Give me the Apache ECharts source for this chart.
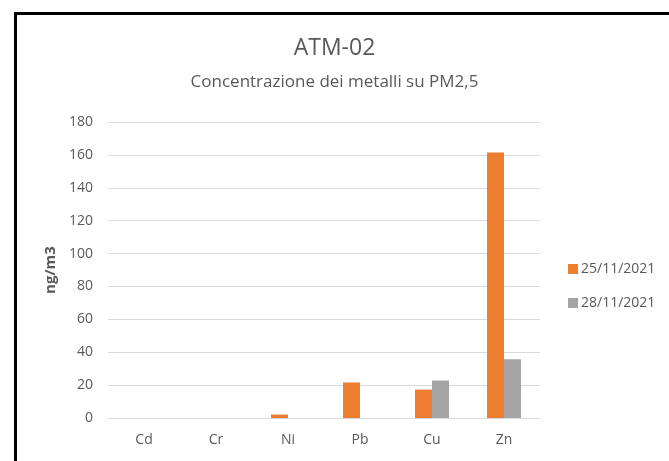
<!DOCTYPE html>
<html>
<head>
<meta charset="utf-8">
<script src="https://cdn.jsdelivr.net/npm/echarts@6/dist/echarts.min.js"></script>
<style>
  html, body { margin: 0; padding: 0; background: #fff; }
  #chart { width: 669px; height: 461px; }
</style>
</head>
<body>
<div id="chart"></div>
<script>
// dati
const categories = ['Cd', 'Cr', 'Ni', 'Pb', 'Cu', 'Zn']
const serie1Name = '25/11/2021'
const serie1 = [0, 0, 2.1, 21.6, 17.3, 161.4]
const serie2Name = '28/11/2021'
const serie2 = [0, 0, 0, 0, 22.8, 35.7]

const chart = echarts.init(document.getElementById('chart'))
const font = '"Open Sans", "Noto Sans", sans-serif'
const grigio = '#595959'

chart.setOption({
    textStyle: { fontFamily: font },
    graphic: [
        {
            type: 'rect',
            left: 13, top: 11,
            shape: { width: 700, height: 500 },
            style: { fill: 'none', stroke: '#000', lineWidth: 3 },
            z: 100
        }
    ],
    title: {
        text: 'ATM-02',
        subtext: 'Concentrazione dei metalli su PM2,5',
        left: 'center',
        top: 32,
        itemGap: 14,
        textStyle: { fontFamily: font, fontSize: 23, fontWeight: 'normal', color: grigio },
        subtextStyle: { fontFamily: font, fontSize: 17, color: grigio }
    },
    legend: {
        orient: 'vertical',
        left: 563,
        top: 257,
        itemWidth: 10,
        itemHeight: 10,
        itemGap: 20,
        icon: 'rect',
        textStyle: { fontFamily: font, fontSize: 14, color: grigio, padding: [0, 0, 0, -2] },
        data: [serie1Name, serie2Name]
    },
    grid: { left: 108, right: 129, top: 122, bottom: 43 },
    xAxis: {
        type: 'category',
        data: categories,
        axisLine: { show: true, lineStyle: { color: '#d9d9d9', width: 1 } },
        axisTick: { show: false },
        axisLabel: { fontFamily: font, fontSize: 14, color: grigio, margin: 15 }
    },
    yAxis: {
        type: 'value',
        min: 0, max: 180, interval: 20,
        name: 'ng/m3',
        nameLocation: 'middle',
        nameGap: 17,
        nameTextStyle: { fontFamily: font, fontSize: 15, fontWeight: 'bold', color: grigio },
        axisLine: { show: false },
        axisTick: { show: false },
        axisLabel: { fontFamily: font, fontSize: 14, color: grigio, margin: 15 },
        splitLine: { lineStyle: { color: '#d9d9d9', width: 1 } }
    },
    series: [
        {
            name: serie1Name,
            type: 'bar',
            data: serie1,
            barWidth: 17,
            barGap: '0%',
            itemStyle: { color: '#ed7d31' }
        },
        {
            name: serie2Name,
            type: 'bar',
            data: serie2,
            barWidth: 17,
            barGap: '0%',
            itemStyle: { color: '#a5a5a5' }
        }
    ]
})
</script>
</body>
</html>
